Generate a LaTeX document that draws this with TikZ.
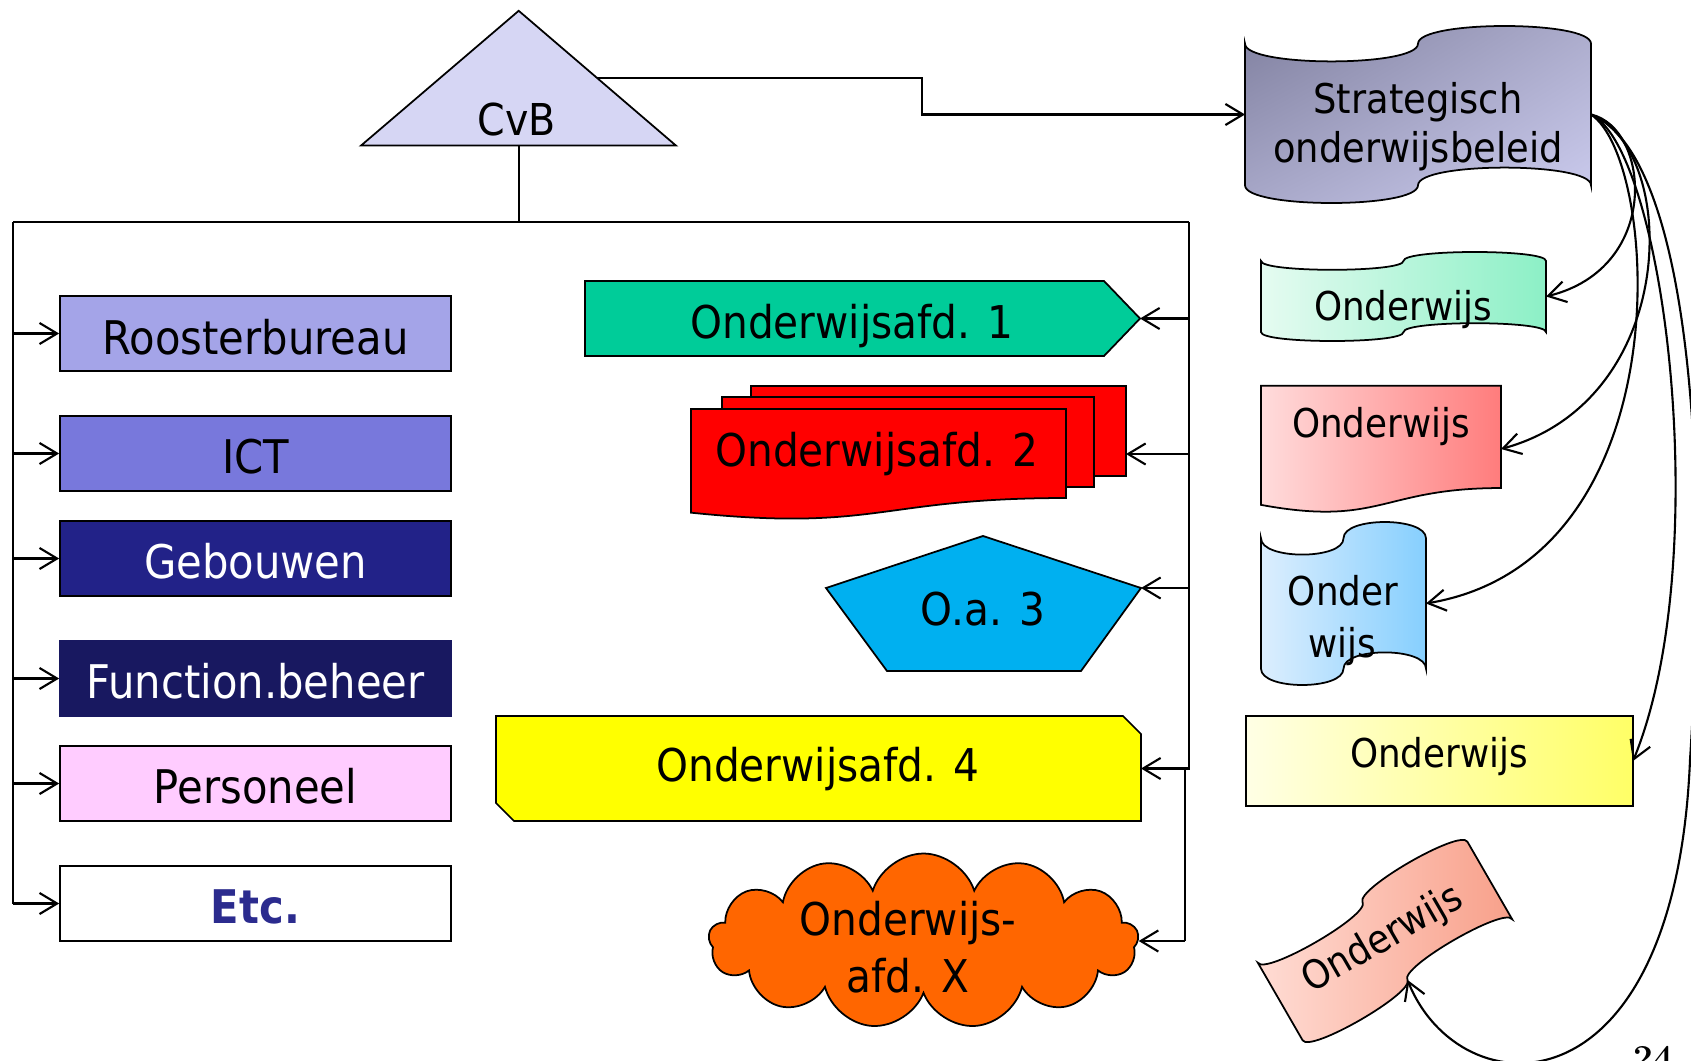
\documentclass[tikz,border=0pt]{standalone}
\usepackage{fontspec}
\setmainfont{DejaVu Sans}[FakeStretch=0.9]
\newfontfamily\pagenumfont{Latin Modern Roman}
\usetikzlibrary{arrows.meta,shapes.symbols,shadings}

\definecolor{cvbfill}{HTML}{D6D6F4}
\definecolor{roosterc}{HTML}{A4A4E8}
\definecolor{ictc}{HTML}{7878DC}
\definecolor{gebouwc}{HTML}{222288}
\definecolor{functc}{HTML}{181860}
\definecolor{persc}{HTML}{FFCCFF}
\definecolor{etctext}{HTML}{2B2B8E}
\definecolor{afdeen}{HTML}{00CC99}
\definecolor{afdtwee}{HTML}{FF0000}
\definecolor{pentc}{HTML}{00B0F0}
\definecolor{afdvier}{HTML}{FFFF00}
\definecolor{cloudc}{HTML}{FF6600}
\definecolor{stratul}{HTML}{7F7F9E}
\definecolor{stratur}{HTML}{ABABCB}
\definecolor{stratll}{HTML}{A9A9CA}
\definecolor{stratlr}{HTML}{CDCDF0}
\definecolor{greenl}{HTML}{E5FBF1}
\definecolor{greenr}{HTML}{8CF0C6}
\definecolor{pinkl}{HTML}{FFDCDC}
\definecolor{pinkr}{HTML}{FF7C7C}
\definecolor{bluel}{HTML}{DCEEFE}
\definecolor{bluer}{HTML}{86CFFE}
\definecolor{yell}{HTML}{FFFFE5}
\definecolor{yelr}{HTML}{FFFF66}
\definecolor{salml}{HTML}{FFDCD4}
\definecolor{salmr}{HTML}{F8A08A}

\newcommand\fsL{\fontsize{26.4}{30}\selectfont}
\newcommand\fsM{\fontsize{25.7}{30}\selectfont}
\newcommand\fsR{\fontsize{22.6}{27}\selectfont}
\newcommand\fsS{\fontsize{23.3}{28}\selectfont}

\begin{document}
\begin{tikzpicture}[x=0.02cm,y=-0.02cm,
  ln/.style={line width=1.2pt},
  arr/.style={line width=1.2pt,-{Straight Barb[length=10pt,width=12pt]}},
  shp/.style={draw,line width=1pt},
  lbox/.style={shp,minimum width=7.82cm,minimum height=1.5cm,inner sep=0pt},
  txt/.style={inner sep=0pt,anchor=base},
  % punched tape outline: left x, top y, width, height
  tapeoutline/.style n args={4}{insert path={
    (#1,{#2+0.1*#4}) .. controls (#1,{#2+0.2333*#4}) and ({#1+#3/2},{#2+0.2333*#4}) .. ({#1+#3/2},{#2+0.1*#4})
    .. controls ({#1+#3/2},{#2-0.0333*#4}) and ({#1+#3},{#2-0.0333*#4}) .. ({#1+#3},{#2+0.1*#4})
    -- ({#1+#3},{#2+0.9*#4})
    .. controls ({#1+#3},{#2+0.7667*#4}) and ({#1+#3/2},{#2+0.7667*#4}) .. ({#1+#3/2},{#2+0.9*#4})
    .. controls ({#1+#3/2},{#2+1.0333*#4}) and (#1,{#2+1.0333*#4}) .. (#1,{#2+0.9*#4}) -- cycle}},
  % document outline with wavy bottom: left x, top y, width, height
  docoutline/.style n args={4}{insert path={
    (#1,#2) -- ({#1+#3},#2) -- ({#1+#3},{#2+0.802*#4})
    .. controls ({#1+#3/2},{#2+0.802*#4}) and ({#1+#3/2},{#2+1.1075*#4}) .. (#1,{#2+0.934*#4}) -- cycle}}
]
\useasboundingbox (0,0) rectangle (1691,1061);
\clip (0,0) rectangle (1691,1061);

% ---------- top: CvB ----------
\filldraw[shp,fill=cvbfill] (518.7,10.8) -- (676,145.6) -- (361,145.6) -- cycle;
\coordinate (cvbside) at (596.6,77.6);
\coordinate (cvbstem) at (518.7,145.6);
\node[txt,font=\fontsize{25}{30}\selectfont] (cvb) at (517,135) {CvB};

% ---------- staff departments (left) ----------
\node[lbox,fill=roosterc] (rooster) at (255.5,333.5) {};
\node[lbox,fill=ictc] (ict) at (255.5,453.5) {};
\node[lbox,fill=gebouwc] (gebouw) at (255.5,558.5) {};
\node[lbox,fill=functc,draw=functc] (funct) at (255.5,678.5) {};
\node[lbox,fill=persc] (pers) at (255.5,783.5) {};
\node[lbox,fill=white] (etc) at (255.5,903.5) {};
\node[txt,font=\fsL] (rooster-t) at (255.5,354) {Roosterbureau};
\node[txt,font=\fsL] (ict-t) at (255.5,473) {ICT};
\node[txt,font=\fsL,text=white] (gebouw-t) at (255.5,578) {Gebouwen};
\node[txt,font=\fsL,text=white] (funct-t) at (255.5,698) {Function.beheer};
\node[txt,font=\fsL] (pers-t) at (255.5,803) {Personeel};
\node[txt,font=\fsL\bfseries,text=etctext] (etc-t) at (255.5,923) {Etc.};

% ---------- education departments (middle) ----------
\filldraw[shp,fill=afdeen] (585,281) -- (1104,281) -- (1140,318.5) coordinate (o1tip) -- (1104,356) -- (585,356) -- cycle;
\node[txt,font=\fsM] (o1) at (852,338) {Onderwijsafd. 1};

\filldraw[shp,fill=afdtwee] (751,386) rectangle (1126,476);
\filldraw[shp,fill=afdtwee] (722,397) rectangle (1094,487);
\filldraw[shp,fill=afdtwee,docoutline={691}{409}{375}{111}];
\coordinate (o2in) at (1126,454);
\node[txt,font=\fsM] (o2) at (877,466.7) {Onderwijsafd. 2};

\filldraw[shp,fill=pentc] (983,536) -- (1141,588) coordinate (o3tip) -- (1081,671) -- (887,671) -- (826,588) -- cycle;
\node[txt,font=\fsM] (o3) at (983,625) {O.a. 3};

\filldraw[shp,fill=afdvier] (496,716) -- (1123,716) -- (1141,734) -- (1141,768.5) coordinate (o4in) -- (1141,821) -- (514,821) -- (496,803) -- cycle;
\node[txt,font=\fsM] (o4) at (818,781.7) {Onderwijsafd. 4};

\node[cloud,cloud puffs=13,cloud puff arc=145,cloud ignores aspect,minimum width=8.6cm,minimum height=3.5cm,
      shp,fill=cloudc,inner sep=0pt] (ox) at (923.5,941) {};
\node[txt,font=\fsM] (ox-a) at (908,935) {Onderwijs-};
\node[txt,font=\fsM] (ox-b) at (908,992) {afd. X};

% ---------- policy and its products (right) ----------
\shadedraw[shp,upper left=stratul,upper right=stratur,
  lower left=stratll,lower right=stratlr,tapeoutline={1245}{26}{346}{177}];
\coordinate (strat-w) at (1245,114.5);
\coordinate (strat-e) at (1591,114.5);
\node[txt,font=\fsS] (strat-a) at (1418,113) {Strategisch};
\node[txt,font=\fsS] (strat-b) at (1418,163) {onderwijsbeleid};

\shadedraw[shp,left color=greenl,right color=greenr,tapeoutline={1261}{252}{285}{89}];
\coordinate (green-e) at (1546,296.5);
\node[txt,font=\fsR] (green-t) at (1403,320.7) {Onderwijs};

\shadedraw[shp,left color=pinkl,right color=pinkr,docoutline={1261}{385.7}{240}{127.6}];
\coordinate (pink-e) at (1501,449);
\node[txt,font=\fsR] (pink-t) at (1381,437) {Onderwijs};

\shadedraw[shp,left color=bluel,right color=bluer,tapeoutline={1261}{522}{165}{163}];
\coordinate (blue-e) at (1426,603.5);
\node[txt,font=\fsR] (blue-a) at (1343,605) {Onder};
\node[txt,font=\fsR] (blue-b) at (1342.5,657) {wijs};

\shadedraw[shp,left color=yell,right color=yelr] (1246,716) rectangle (1633,806);
\coordinate (yellow-e) at (1633,761);
\node[txt,font=\fsR] (yellow-t) at (1439,767) {Onderwijs};

\begin{scope}[shift={(1385,941)},rotate=30]
  \shadedraw[shp,left color=salml,right color=salmr,tapeoutline={-121}{-56}{242}{112}];
  \coordinate (rot-in) at (0,44.8);
\end{scope}
\node[inner sep=0pt,rotate=30,font=\fsR] (rot-t) at (1383,940) {Onderwijs};

% ---------- page number ----------
\node[txt,font=\pagenumfont\bfseries\fontsize{20}{24}\selectfont] (pnum) at (1653,1069) {24};

% ---------- connectors ----------
\draw[arr] (cvbside) -- (922,77.6) |- (strat-w);
\draw[ln] (cvbstem) -- (518.7,222) coordinate (hub);
\coordinate (busL) at (13,222);
\coordinate (busR) at (1189,222);
\draw[ln] (busL) -- (busR);
\draw[ln] (busL) -- (busL |- etc.west);
\foreach \b in {rooster,ict,gebouw,funct,pers,etc}
  \draw[arr] (busL |- \b.west) -- (\b.west);

\coordinate (busRlow) at (1185,768.5);
\draw[ln] (busR) -- (1189,768.5) -- (busRlow) -- (busRlow |- ox.east);
\draw[arr] (busR |- o1tip) -- (o1tip);
\draw[arr] (busR |- o2in) -- (o2in);
\draw[arr] (busR |- o3tip) -- (o3tip);
\draw[arr] (1189,768.5) -- (o4in);
\draw[arr] (busRlow |- ox.east) -- (ox.east);

\draw[arr] (strat-e) .. controls (1650,128) and (1662,268) .. (green-e);
\draw[arr] (strat-e) .. controls (1680,150) and (1680,400) .. (pink-e);
\draw[arr] (strat-e) .. controls (1660,160) and (1685,560) .. (blue-e);
\draw[arr] (strat-e) .. controls (1665,150) and (1715,560) .. (yellow-e);
\draw[arr] (strat-e) .. controls (1680,150) and (1712,420) .. (1690,760)
  .. controls (1675,1120) and (1460,1110) .. (rot-in);
\end{tikzpicture}
\end{document}
